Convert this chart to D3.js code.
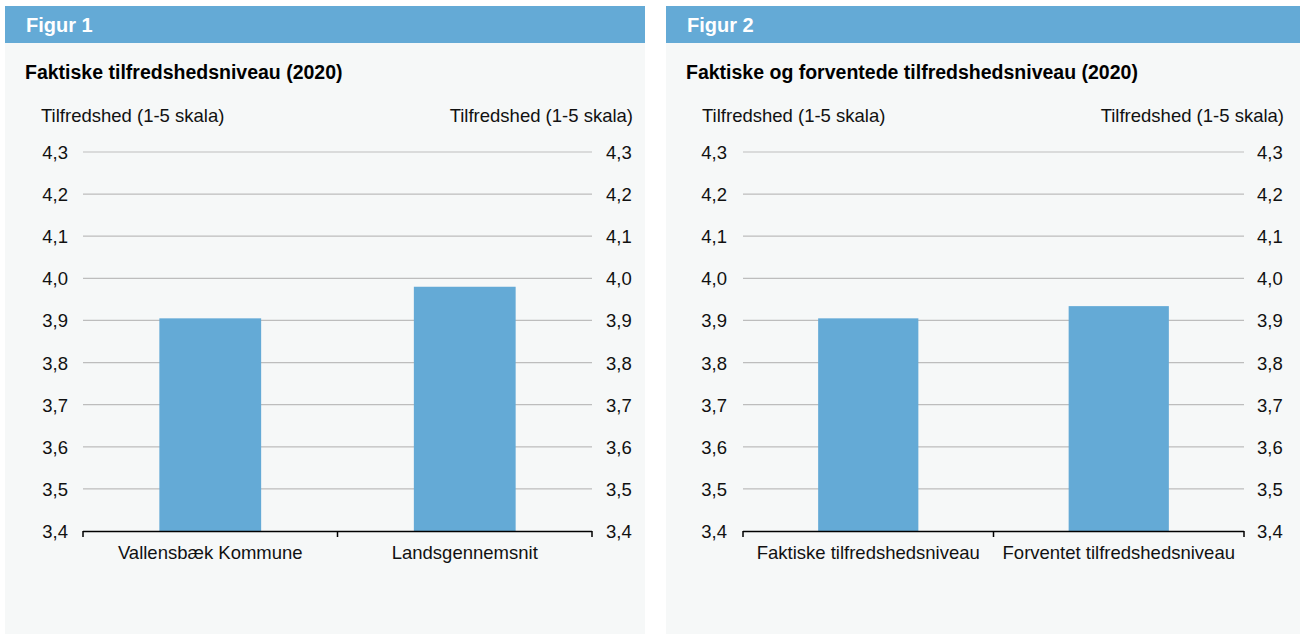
<!DOCTYPE html>
<html><head><meta charset="utf-8">
<script src="https://cdn.jsdelivr.net/npm/d3@7"></script>
<style>
body{margin:0;background:#fff;font-family:"Liberation Sans",Arial,sans-serif;}
</style></head>
<body>
<svg id="c" width="1305" height="635"></svg>
<script>
const figTitles = ["Figur 1", "Figur 2"];
const subTitles = ["Faktiske tilfredshedsniveau (2020)", "Faktiske og forventede tilfredshedsniveau (2020)"];
const axisTitle = "Tilfredshed (1-5 skala)";
const categories1 = ["Vallensbæk Kommune", "Landsgennemsnit"];
const values1 = [3.905, 3.98];
const categories2 = ["Faktiske tilfredshedsniveau", "Forventet tilfredshedsniveau"];
const values2 = [3.905, 3.934];
const yTicks = [3.4, 3.5, 3.6, 3.7, 3.8, 3.9, 4.0, 4.1, 4.2, 4.3];

const svg = d3.select("#c");
const blue = "#64AAD6";
const fmt = v => d3.format(".1f")(v).replace(".", ",");
const FS = 18.5;

const panels = [
  {x0: 5, w: 640, cats: categories1, vals: values1, pl: 83, pr: 592, lblL: 68, lblR: 606, atL: 41, atR: 633},
  {x0: 666, w: 634, cats: categories2, vals: values2, pl: 743, pr: 1244, lblL: 727, lblR: 1257, atL: 702, atR: 1284}
];

panels.forEach((p, i) => {
  const g = svg.append("g");
  g.append("rect").attr("x", p.x0).attr("y", 43).attr("width", p.w).attr("height", 591).attr("fill", "#F6F8F8");
  g.append("rect").attr("x", p.x0).attr("y", 6).attr("width", p.w).attr("height", 37).attr("fill", blue);
  g.append("text").attr("x", p.x0 + 21).attr("y", 32).attr("fill", "#fff").attr("font-weight", "bold")
    .attr("font-size", 20).text(figTitles[i]);
  g.append("text").attr("x", p.x0 + 20).attr("y", 79).attr("fill", "#000").attr("font-weight", "bold")
    .attr("font-size", 19.5).text(subTitles[i]);
  g.append("text").attr("x", p.atL).attr("y", 122).attr("font-size", FS).attr("fill", "#111").text(axisTitle);
  g.append("text").attr("x", p.atR).attr("y", 122).attr("font-size", FS).attr("fill", "#111")
    .attr("text-anchor", "end").text(axisTitle);

  const y = d3.scaleLinear().domain([3.4, 4.3]).range([531, 152]);
  const x = d3.scaleBand().domain(p.cats).range([p.pl, p.pr]).paddingInner(0.6).paddingOuter(0.3);

  g.selectAll(".grid").data(yTicks.filter(t => t > 3.4)).enter().append("line")
    .attr("x1", p.pl).attr("x2", p.pr).attr("y1", d => y(d)).attr("y2", d => y(d))
    .attr("stroke", "#BDBDBD").attr("stroke-width", 1.2);

  const yl = d3.axisLeft(y).tickValues(yTicks).tickFormat(fmt).tickSize(0).tickPadding(0);
  const gl = g.append("g").attr("transform", `translate(${p.lblL},0)`).call(yl);
  gl.select(".domain").remove();
  gl.selectAll("text").attr("font-size", FS).attr("font-family", "Liberation Sans, Arial, sans-serif").attr("fill", "#111").attr("dy", "0.35em");
  const yr = d3.axisRight(y).tickValues(yTicks).tickFormat(fmt).tickSize(0).tickPadding(0);
  const gr = g.append("g").attr("transform", `translate(${p.lblR},0)`).call(yr);
  gr.select(".domain").remove();
  gr.selectAll("text").attr("font-size", FS).attr("font-family", "Liberation Sans, Arial, sans-serif").attr("fill", "#111").attr("dy", "0.35em");

  g.selectAll(".bar").data(p.vals).enter().append("rect")
    .attr("x", (d, k) => x(p.cats[k])).attr("width", x.bandwidth())
    .attr("y", d => y(d)).attr("height", d => y(3.4) - y(d)).attr("fill", blue);

  const xs = d3.scalePoint().domain(d3.range(p.cats.length + 1)).range([p.pl, p.pr]);
  g.append("line").attr("x1", p.pl).attr("x2", p.pr).attr("y1", 531.5).attr("y2", 531.5)
    .attr("stroke", "#000").attr("stroke-width", 1.5);
  g.selectAll(".tk").data(xs.domain()).enter().append("line")
    .attr("x1", d => xs(d)).attr("x2", d => xs(d)).attr("y1", 531).attr("y2", 537)
    .attr("stroke", "#000").attr("stroke-width", 1.5);
  const xb = d3.scaleBand().domain(p.cats).range([p.pl, p.pr]);
  g.selectAll(".cl").data(p.cats).enter().append("text")
    .attr("x", d => xb(d) + xb.bandwidth() / 2).attr("y", 559).attr("text-anchor", "middle")
    .attr("font-size", FS).attr("fill", "#111").text(d => d);
});
</script>
</body></html>
